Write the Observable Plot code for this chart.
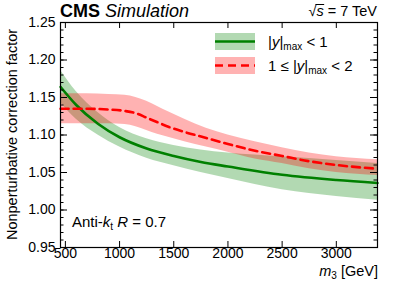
<!DOCTYPE html>
<html><head><meta charset="utf-8">
<script src="https://cdn.jsdelivr.net/npm/d3@7"></script>
<script src="https://cdn.jsdelivr.net/npm/@observablehq/plot@0.6"></script>
<style>body{margin:0;background:#fff}</style>
</head><body><div id="chart"></div>
<script>
// |y|max < 1 (green)
const m3Green   = [456, 600, 800, 1000, 1250, 1500, 1750, 2000, 2500, 3000, 3380];
const greenMid  = [1.164, 1.140, 1.115, 1.097, 1.082, 1.072, 1.064, 1.058, 1.047, 1.040, 1.036];
const greenHi   = [1.186, 1.158, 1.130, 1.110, 1.095, 1.086, 1.080, 1.076, 1.071, 1.066, 1.062];
const greenLo   = [1.143, 1.121, 1.100, 1.084, 1.069, 1.059, 1.050, 1.042, 1.027, 1.018, 1.013];
// 1 <= |y|max < 2 (red)
const m3Red     = [456, 700, 900, 1050, 1150, 1250, 1350, 1450, 1600, 1800, 2000, 2250, 2500, 2750, 3000, 3380];
const redMid    = [1.135, 1.135, 1.134, 1.132, 1.129, 1.123, 1.117, 1.111, 1.104, 1.096, 1.088, 1.079, 1.072, 1.065, 1.060, 1.055];
const redHi     = [1.155, 1.155, 1.154, 1.153, 1.150, 1.145, 1.138, 1.131, 1.121, 1.109, 1.100, 1.091, 1.083, 1.076, 1.071, 1.067];
const redLo     = [1.115, 1.115, 1.115, 1.114, 1.111, 1.106, 1.101, 1.097, 1.091, 1.084, 1.077, 1.068, 1.062, 1.055, 1.050, 1.046];
const xTicks    = [500, 1000, 1500, 2000, 2500, 3000];
const yTicks    = [0.95, 1.00, 1.05, 1.10, 1.15, 1.20, 1.25];
const yMinor    = d3.range(95, 126).map(v => v / 100);

const green = m3Green.map((m, i) => ({m, mid: greenMid[i], hi: greenHi[i], lo: greenLo[i]}));
const red = m3Red.map((m, i) => ({m, mid: redMid[i], hi: redHi[i], lo: redLo[i]}));

const W = 399, H = 282, ML = 60, MR = 22, MT = 22, MB = 35;
const PW = W - ML - MR, PH = H - MT - MB;
const font = "'Liberation Sans', Arial, Helvetica, sans-serif";
const GREEN = "#008000", RED = "#ff0000";

const chart = Plot.plot({
  width: W, height: H,
  marginLeft: ML, marginRight: MR, marginTop: MT, marginBottom: MB,
  style: {fontFamily: font, background: "white", overflow: "visible"},
  x: {domain: [455, 3380]},
  y: {domain: [0.95, 1.25]},
  marks: [
    Plot.areaY(green, {x: "m", y1: "lo", y2: "hi", fill: GREEN, fillOpacity: 0.3, curve: "monotone-x"}),
    Plot.areaY(red, {x: "m", y1: "lo", y2: "hi", fill: RED, fillOpacity: 0.3, curve: "monotone-x"}),
    Plot.lineY(green, {x: "m", y: "mid", stroke: GREEN, strokeWidth: 2.6, curve: "monotone-x"}),
    Plot.lineY(red, {x: "m", y: "mid", stroke: RED, strokeWidth: 2.6, strokeDasharray: "8,5", curve: "monotone-x"}),
    Plot.frame({stroke: "black", strokeWidth: 1.2}),
    Plot.tickX(xTicks, {x: d => d, insetTop: PH - 6, stroke: "black"}),
    Plot.tickX(xTicks, {x: d => d, insetBottom: PH - 6, stroke: "black"}),
    Plot.tickY(yTicks, {y: d => d, insetRight: PW - 7, stroke: "black"}),
    Plot.tickY(yTicks, {y: d => d, insetLeft: PW - 7, stroke: "black"}),
    Plot.tickY(yMinor, {y: d => d, insetRight: PW - 3.5, stroke: "black"}),
    Plot.tickY(yMinor, {y: d => d, insetLeft: PW - 3.5, stroke: "black"}),
    Plot.axisX({ticks: xTicks, tickSize: 0, tickPadding: 1, fontSize: 14, label: null, tickFormat: d => String(d), fill: "black"}),
    Plot.axisY({ticks: yTicks, tickSize: 0, tickPadding: 5, fontSize: 14, label: null, tickFormat: d3.format(".2f"), fill: "black"})
  ]
});
document.getElementById("chart").appendChild(chart);

const svg = d3.select(chart);
const g = svg.append("g").attr("font-family", font).attr("fill", "black").attr("text-anchor", "start");

// Title
const t = g.append("text").attr("x", ML).attr("y", 17).attr("font-size", 18);
t.append("tspan").attr("font-weight", "bold").text("CMS");
t.append("tspan").attr("font-style", "italic").text(" Simulation");

// sqrt(s) = 7 TeV
const e = g.append("text").attr("x", W - MR).attr("y", 16).attr("font-size", 14.5).attr("text-anchor", "end");
e.append("tspan").text("√");
const sT = e.append("tspan").attr("font-style", "italic").text("s");
e.append("tspan").text(" = 7 TeV");
try {
  const bb = sT.node().getBBox();
  g.append("line").attr("x1", bb.x - 1).attr("x2", bb.x + bb.width + 0.5)
    .attr("y1", bb.y + 1.5).attr("y2", bb.y + 1.5).attr("stroke", "black").attr("stroke-width", 1);
} catch (err) {}

// Y label
g.append("text").attr("transform", `translate(17,${MT + PH / 2}) rotate(-90)`)
  .attr("text-anchor", "middle").attr("font-size", 14.5).text("Nonperturbative correction factor");

// X label
const xl = g.append("text").attr("x", W - MR + 1).attr("y", 276).attr("text-anchor", "end").attr("font-size", 14.5);
xl.append("tspan").attr("font-style", "italic").text("m");
xl.append("tspan").attr("font-size", 10).attr("dy", 3).text("3");
xl.append("tspan").attr("dy", -3).text(" [GeV]");

// Anti-kt R = 0.7
const ak = g.append("text").attr("x", 72).attr("y", 227).attr("font-size", 15);
ak.append("tspan").text("Anti-");
ak.append("tspan").attr("font-style", "italic").text("k");
ak.append("tspan").attr("font-size", 10).attr("dy", 3).text("t");
ak.append("tspan").attr("dy", -3).text(" ");
ak.append("tspan").attr("font-style", "italic").text("R");
ak.append("tspan").text(" = 0.7");

// Legend
const lg = g.append("g");
lg.append("rect").attr("x", 215).attr("y", 33).attr("width", 40).attr("height", 17).attr("fill", GREEN).attr("fill-opacity", 0.3);
lg.append("line").attr("x1", 215).attr("x2", 255).attr("y1", 41.5).attr("y2", 41.5).attr("stroke", GREEN).attr("stroke-width", 2.6);
lg.append("rect").attr("x", 215).attr("y", 57).attr("width", 40).attr("height", 17).attr("fill", RED).attr("fill-opacity", 0.3);
lg.append("line").attr("x1", 215).attr("x2", 255).attr("y1", 65.5).attr("y2", 65.5).attr("stroke", RED).attr("stroke-width", 2.6).attr("stroke-dasharray", "8,5");

const l1 = lg.append("text").attr("x", 268).attr("y", 47).attr("font-size", 15);
l1.append("tspan").text("|");
l1.append("tspan").attr("font-style", "italic").text("y");
l1.append("tspan").text("|");
l1.append("tspan").attr("font-size", 10).attr("dy", 3).text("max");
l1.append("tspan").attr("dy", -3).text(" < 1");

const l2 = lg.append("text").attr("x", 268).attr("y", 71).attr("font-size", 15);
l2.append("tspan").text("1 ≤ |");
l2.append("tspan").attr("font-style", "italic").text("y");
l2.append("tspan").text("|");
l2.append("tspan").attr("font-size", 10).attr("dy", 3).text("max");
l2.append("tspan").attr("dy", -3).text(" < 2");
</script></body></html>
